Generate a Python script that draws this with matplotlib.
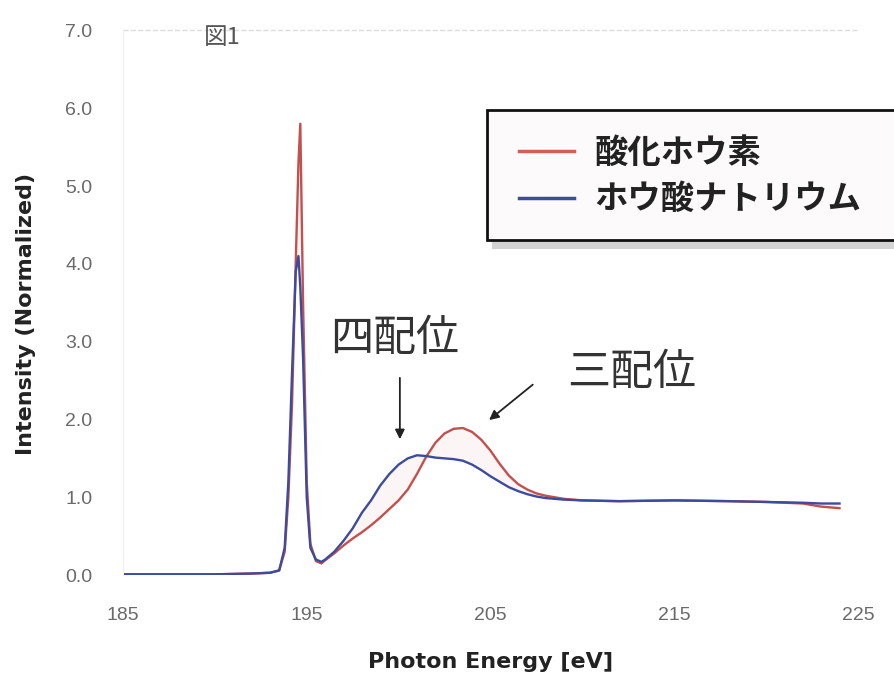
import numpy as np
import matplotlib.pyplot as plt
from matplotlib.patches import Rectangle
from matplotlib.lines import Line2D

plt.rcParams['font.family'] = ['Noto Sans CJK JP', 'DejaVu Sans']

# photon energy [eV]
energy = [185, 188, 190, 192, 193, 193.5, 193.8, 194.0, 194.2, 194.4, 194.55, 194.65,
          194.8, 195.0, 195.2, 195.5, 195.8, 196, 196.5, 197, 197.5, 198, 198.5,
          199, 199.5, 200, 200.5, 201, 201.5, 202, 202.5, 203, 203.5, 204, 204.5,
          205, 205.5, 206, 206.5, 207, 207.5, 208, 209, 210, 212, 215, 218, 220,
          222, 223, 224]
# 酸化ホウ素
boron_oxide = [0.01, 0.01, 0.01, 0.02, 0.03, 0.06, 0.3, 1.0, 2.2, 4.0, 5.3, 5.8,
               3.5, 1.2, 0.4, 0.18, 0.15, 0.19, 0.28, 0.38, 0.47, 0.55, 0.64,
               0.74, 0.85, 0.96, 1.1, 1.3, 1.52, 1.7, 1.82, 1.88, 1.89, 1.84, 1.74,
               1.6, 1.43, 1.28, 1.17, 1.1, 1.05, 1.02, 0.98, 0.96, 0.95, 0.96, 0.95,
               0.94, 0.92, 0.88, 0.86]
# ホウ酸ナトリウム
sodium_borate = [0.01, 0.01, 0.01, 0.02, 0.03, 0.06, 0.35, 1.2, 2.6, 3.9, 4.1, 3.7,
                 2.8, 1.0, 0.35, 0.2, 0.17, 0.2, 0.3, 0.44, 0.6, 0.8, 0.96,
                 1.15, 1.3, 1.42, 1.5, 1.54, 1.53, 1.51, 1.5, 1.49, 1.47, 1.42, 1.35,
                 1.27, 1.2, 1.13, 1.08, 1.04, 1.01, 0.99, 0.97, 0.96, 0.95, 0.96, 0.95,
                 0.94, 0.93, 0.92, 0.92]

xticks = [185, 195, 205, 215, 225]
yticks = [0, 1, 2, 3, 4, 5, 6, 7]

red = '#c4504e'
blue = '#3d4b9e'
sans = ['Liberation Sans', 'DejaVu Sans']

fig = plt.figure(figsize=(8.94, 6.75), dpi=100)
ax = fig.add_axes([0.1376, 0.148, 0.822, 0.807])

ax.fill_between(energy, boron_oxide, sodium_borate, color='#fbf5f6', lw=0)
ax.plot(energy, boron_oxide, color=red, lw=1.7)
ax.plot(energy, sodium_borate, color=blue, lw=1.7)

ax.set_xlim(185, 225)
ax.set_ylim(0, 7)
ax.set_xticks(xticks)
ax.set_yticks(yticks)
ax.set_yticklabels([f'{v:.1f}' for v in yticks])
ax.tick_params(length=0, colors='#6a6a6a')
ax.tick_params(axis='x', pad=23, labelsize=14)
ax.tick_params(axis='y', pad=22, labelsize=14)
for t in ax.get_xticklabels() + ax.get_yticklabels():
    t.set_family(sans)
for s in ['top', 'right', 'bottom']:
    ax.spines[s].set_visible(False)
ax.spines['left'].set_color('#eeeeee')
ax.axhline(7, color='#dddddd', lw=1, ls='--', clip_on=False)

ax.set_xlabel('Photon Energy [eV]', fontsize=16, fontweight='bold', color='#222222',
              family='DejaVu Sans', labelpad=20)
ax.set_ylabel('Intensity (Normalized)', fontsize=16, fontweight='bold', color='#222222',
              family='DejaVu Sans', labelpad=22)
ax.yaxis.set_label_coords(-0.118, 0.48)

# annotations
ax.annotate('', xy=(200.07, 1.71), xytext=(200.07, 2.57),
            arrowprops=dict(arrowstyle='-|>', color='#222222', lw=1.3, mutation_scale=14))
ax.annotate('', xy=(204.81, 1.97), xytext=(207.42, 2.47),
            arrowprops=dict(arrowstyle='-|>', color='#222222', lw=1.3, mutation_scale=14))
ax.text(199.8, 3.03, '四配位', fontsize=31, color='#333333', ha='center', va='center')
ax.text(212.7, 2.60, '三配位', fontsize=31, color='#333333', ha='center', va='center')

fig.text(222 / 894, 1 - 38 / 675, '図1', fontsize=17, color='#555555', ha='center', va='center')

# legend box with shadow
x0, y0 = 487 / 894, 1 - 240 / 675
w, h = 420 / 894, 130 / 675
fig.patches.append(Rectangle((x0 + 0.006, y0 - 0.014), w, h, transform=fig.transFigure,
                             facecolor='#d4d4d4', edgecolor='none', zorder=5))
fig.patches.append(Rectangle((x0, y0), w, h, transform=fig.transFigure,
                             facecolor='#fcfafa', edgecolor='#111111', lw=2, zorder=6))
handles = [Line2D([], [], color='#d0605a', lw=2.5), Line2D([], [], color=blue, lw=2.5)]
leg = fig.legend(handles, ['酸化ホウ素', 'ホウ酸ナトリウム'], loc='upper left',
                 bbox_to_anchor=(489 / 894, 1 - 107 / 675), frameon=False,
                 prop={'size': 24, 'weight': 'bold'}, handlelength=1.65,
                 handletextpad=0.6, labelspacing=0.4)
leg.set_zorder(7)
for t in leg.get_texts():
    t.set_color('#222222')

fig.savefig('out.png', dpi=100)
